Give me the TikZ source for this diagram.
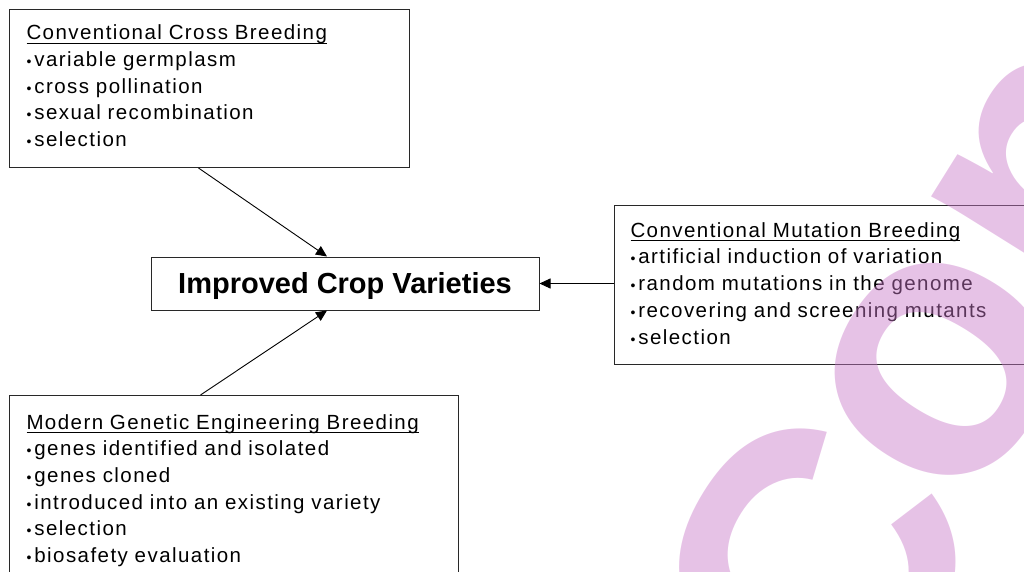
\documentclass[tikz,border=0pt]{standalone}
\usepackage{fontspec}
\setmainfont{Liberation Sans}
\newfontfamily\listfont{Liberation Sans}[LetterSpace=7]
\usetikzlibrary{arrows.meta,positioning}
\definecolor{wmpink}{RGB}{200,120,200}
\definecolor{boxline}{RGB}{40,40,40}
\newcommand{\bul}{{\fontsize{14}{14}\selectfont\textbullet}\hspace{3pt}}
\newcommand{\hdr}[1]{\vtop{\hbox{\raisebox{0pt}[\height][0pt]{#1}}\kern2.9pt\hrule height 1.3pt}}
\tikzset{
  listbox/.style={rectangle, draw=boxline, line width=1pt, anchor=north west, align=left, inner xsep=17pt, inner ysep=0pt, font=\listfont\fontsize{20.5}{26.7}\selectfont},
  mainbox/.style={rectangle, draw=boxline, line width=1pt, minimum width=388pt, minimum height=53pt, inner sep=0pt, text height=21.3pt, text depth=1.7pt, font=\bfseries\fontsize{29}{32}\selectfont},
  flow/.style={-{Triangle[length=11pt,width=10pt]}, line width=0.9pt},
  wmtext/.style={text=wmpink, text opacity=0.45, inner sep=0pt, rotate=58, anchor=base west, font=\bfseries\fontsize{380}{380}\selectfont},
}
\begin{document}
\begin{tikzpicture}[x=1pt,y=-1pt]
  \useasboundingbox (0,0) rectangle (1024,572);
  \clip (0,0) rectangle (1024,572);
  \node[mainbox] (crop) at (345,283.5) {Improved Crop Varieties};
  \node[listbox,text width=366pt,text height=30.3pt,text depth=127.7pt] (cross) at (9,9)
    {\hdr{Conventional Cross Breeding}\\ \bul variable germplasm\\ \bul cross pollination\\ \bul sexual recombination\\ \bul selection};
  \node[listbox,inner xsep=16pt,text width=388pt,text height=31.7pt,text depth=127.3pt] (mut) at (614,205)
    {\hdr{Conventional Mutation Breeding}\\ \bul artificial induction of variation\\ \bul random mutations in the genome\\ \bul recovering and screening mutants\\ \bul selection};
  \node[listbox,text width=415pt,text height=33.5pt,text depth=200pt] (gen) at (9,395)
    {\hdr{Modern Genetic Engineering Breeding}\\ \bul genes identified and isolated\\ \bul genes cloned\\ \bul introduced into an existing variety\\ \bul selection\\ \bul biosafety evaluation};
  \draw[flow] ([xshift=-11pt]cross.south) -- ([xshift=-18pt]crop.north);
  \draw[flow] ([xshift=-33.5pt]gen.north) -- ([xshift=-18pt]crop.south);
  \draw[flow] (mut.west |- crop.east) -- (crop.east);
  % watermark
  \node[wmtext] (stamp) at (828.4,740.4) {\raisebox{-28pt}{C}\kern-16pt on};
\end{tikzpicture}
\end{document}
